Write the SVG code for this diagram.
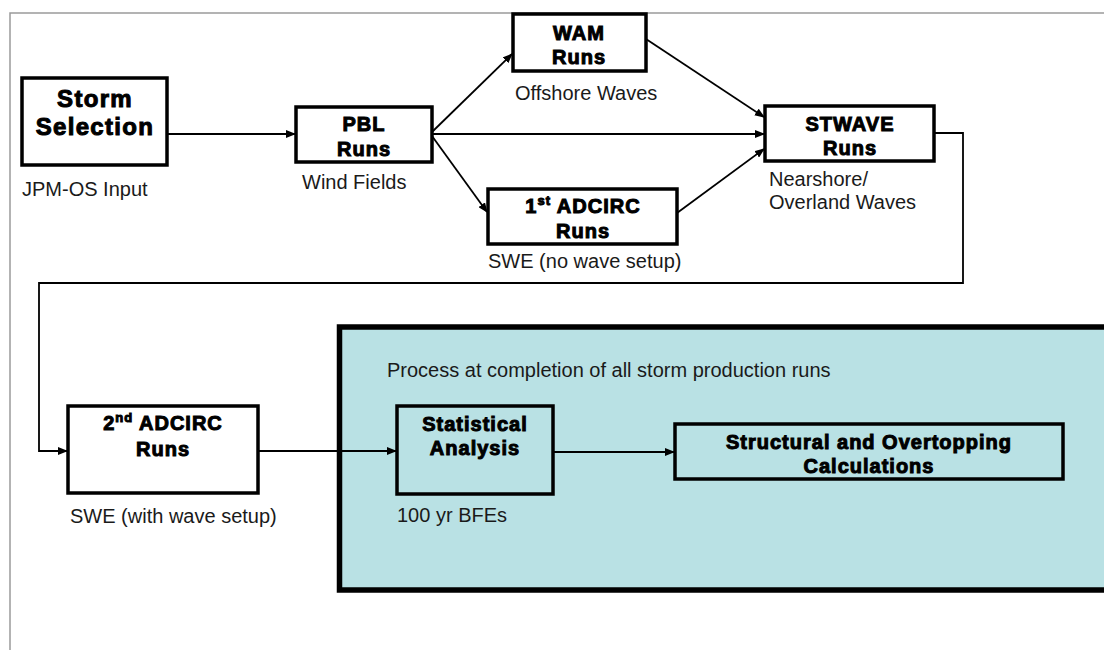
<svg xmlns="http://www.w3.org/2000/svg" width="1104" height="650" viewBox="0 0 1104 650">
<style>
.box{fill:#fff;stroke:#000;stroke-width:3.5}
.tbox{fill:none;stroke:#000;stroke-width:3.5}
.bt{font-family:"Liberation Sans",Arial,sans-serif;font-weight:bold;font-size:20px;fill:#000;stroke:#000;stroke-width:1;letter-spacing:1px;text-anchor:middle}
.big{font-size:24px;letter-spacing:1.3px}
.lb{font-family:"Liberation Sans",Arial,sans-serif;font-size:20px;fill:#1a1a1a}
.cn{fill:none;stroke:#000;stroke-width:1.8}
</style>
<defs>
<marker id="ah" markerWidth="10" markerHeight="8" refX="9" refY="4" orient="auto" markerUnits="userSpaceOnUse">
<path d="M0,0 L10,4 L0,8 Z" fill="#000"/>
</marker>
</defs>
<rect x="0" y="0" width="1104" height="650" fill="#fff"/>
<path d="M10,650 L10,13 L1104,13" fill="none" stroke="#9a9a9a" stroke-width="1.5"/>

<g id="process-area">
<rect x="339.5" y="327" width="800" height="263" fill="#b9e1e4" stroke="#000" stroke-width="5.5"/>
<text class="lb" x="387" y="377">Process at completion of all storm production runs</text>
</g>

<g id="connectors">
<line class="cn" x1="167" y1="134" x2="295" y2="134" marker-end="url(#ah)"/>
<line class="cn" x1="432" y1="132" x2="512" y2="54" marker-end="url(#ah)"/>
<line class="cn" x1="432" y1="134" x2="764" y2="134" marker-end="url(#ah)"/>
<line class="cn" x1="432" y1="136" x2="487" y2="212" marker-end="url(#ah)"/>
<line class="cn" x1="646" y1="39" x2="764" y2="117" marker-end="url(#ah)"/>
<line class="cn" x1="677" y1="213" x2="764" y2="149" marker-end="url(#ah)"/>
<polyline class="cn" points="934,133 963,133 963,283 39,283 39,451 67,451" marker-end="url(#ah)"/>
<line class="cn" x1="258" y1="451" x2="396" y2="451" marker-end="url(#ah)"/>
<line class="cn" x1="553" y1="452" x2="674" y2="452" marker-end="url(#ah)"/>
</g>

<g id="storm-selection">
<rect class="box" x="22" y="78" width="145" height="87"/>
<text class="bt big" x="95" y="107">Storm</text>
<text class="bt big" x="95" y="135">Selection</text>
<text class="lb" x="22" y="196">JPM-OS Input</text>
</g>

<g id="pbl-runs">
<rect class="box" x="296" y="107" width="136" height="55"/>
<text class="bt" x="364" y="131">PBL</text>
<text class="bt" x="364" y="156">Runs</text>
<text class="lb" x="302" y="189">Wind Fields</text>
</g>

<g id="wam-runs">
<rect class="box" x="513" y="14" width="133" height="57"/>
<text class="bt" x="579" y="40">WAM</text>
<text class="bt" x="579" y="64">Runs</text>
<text class="lb" x="515" y="100">Offshore Waves</text>
</g>

<g id="stwave-runs">
<rect class="box" x="765" y="106" width="169" height="55"/>
<text class="bt" x="850" y="131">STWAVE</text>
<text class="bt" x="850" y="155">Runs</text>
<text class="lb" x="769" y="186">Nearshore/</text>
<text class="lb" x="769" y="209">Overland Waves</text>
</g>

<g id="adcirc1-runs">
<rect class="box" x="488" y="189" width="189" height="55"/>
<text class="bt" x="583" y="213">1<tspan font-size="13" dy="-8">st</tspan><tspan dy="8"> ADCIRC</tspan></text>
<text class="bt" x="583" y="238">Runs</text>
<text class="lb" x="488" y="268">SWE (no wave setup)</text>
</g>

<g id="adcirc2-runs">
<rect class="box" x="68" y="406" width="190" height="87"/>
<text class="bt" x="163" y="430">2<tspan font-size="13" dy="-8">nd</tspan><tspan dy="8"> ADCIRC</tspan></text>
<text class="bt" x="163" y="456">Runs</text>
<text class="lb" x="70" y="523">SWE (with wave setup)</text>
</g>

<g id="statistical-analysis">
<rect class="tbox" x="397" y="406" width="156" height="88"/>
<text class="bt" x="475" y="431">Statistical</text>
<text class="bt" x="475" y="455">Analysis</text>
<text class="lb" x="397" y="522">100 yr BFEs</text>
</g>

<g id="structural-overtopping">
<rect class="tbox" x="675" y="424" width="388" height="55"/>
<text class="bt" x="869" y="449">Structural and Overtopping</text>
<text class="bt" x="869" y="473">Calculations</text>
</g>
</svg>
